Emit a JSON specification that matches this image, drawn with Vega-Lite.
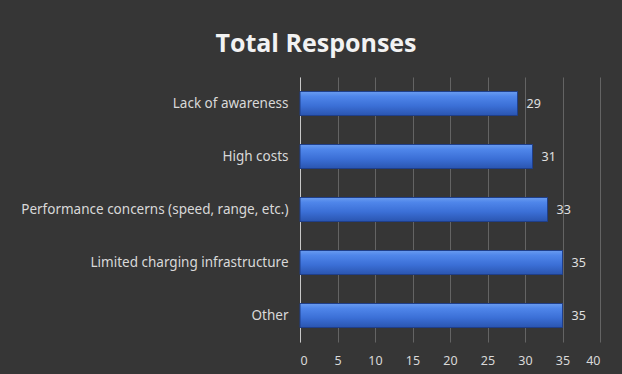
{
  "$schema": "https://vega.github.io/schema/vega-lite/v6.json",
  "width": 300,
  "height": 265,
  "autosize": "none",
  "padding": {"left": 300, "top": 77, "right": 22, "bottom": 32},
  "background": "#363636",
  "config": {"view": {"stroke": null}},
  "title": {
    "text": "Total  Responses",
    "font": "Open Sans",
    "fontSize": 25,
    "fontWeight": "bold",
    "color": "#f2f2f2",
    "anchor": "middle",
    "frame": "group",
    "dx": -134,
    "offset": 20
  },
  "data": {
    "values": [
      {"category": "Lack of awareness", "responses": 29},
      {"category": "High costs", "responses": 31},
      {"category": "Performance concerns (speed, range, etc.)", "responses": 33},
      {"category": "Limited charging infrastructure", "responses": 35},
      {"category": "Other", "responses": 35}
    ]
  },
  "encoding": {
    "y": {
      "field": "category",
      "type": "nominal",
      "sort": null,
      "scale": {"paddingInner": 0, "paddingOuter": 0},
      "axis": {
        "title": null,
        "ticks": false,
        "domain": true,
        "domainColor": "#c8c8c8",
        "domainWidth": 1,
        "labelFont": "Noto Sans",
        "labelFontSize": 13.5,
        "labelColor": "#d9d9d9",
        "labelPadding": 12,
        "labelLimit": 320,
        "grid": false
      }
    },
    "x": {
      "field": "responses",
      "type": "quantitative",
      "scale": {"domain": [0, 40], "nice": false},
      "axis": {
        "title": null,
        "values": [0, 5, 10, 15, 20, 25, 30, 35, 40],
        "ticks": false,
        "domain": false,
        "grid": true,
        "gridColor": "#646464",
        "gridWidth": 1,
        "labelFont": "Noto Sans",
        "labelFontSize": 12.5,
        "labelColor": "#d9d9d9",
        "labelPadding": 12
      }
    }
  },
  "layer": [
    {
      "mark": {
        "type": "bar",
        "size": 24,
        "stroke": "#1f3f8a",
        "strokeWidth": 1,
        "color": {
          "gradient": "linear",
          "x1": 0, "y1": 0, "x2": 0, "y2": 1,
          "stops": [
            {"offset": 0, "color": "#6a9cf0"},
            {"offset": 0.2, "color": "#4f86ea"},
            {"offset": 0.6, "color": "#3b6fd6"},
            {"offset": 1, "color": "#2a55b0"}
          ]
        }
      }
    },
    {
      "mark": {
        "type": "text",
        "align": "left",
        "baseline": "middle",
        "dx": 9,
        "font": "Noto Sans",
        "fontSize": 12.5,
        "color": "#e0e0e0"
      },
      "encoding": {
        "text": {"field": "responses", "type": "quantitative"}
      }
    }
  ]
}
